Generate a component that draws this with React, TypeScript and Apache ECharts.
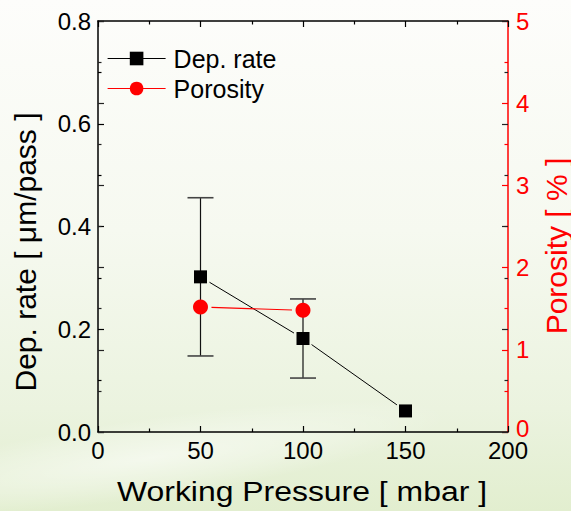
import React, { useEffect, useRef } from "react";
import * as echarts from "echarts";

// Working pressure (mbar) and measured deposition rate (µm/pass)
const pressure = [50, 100, 150];
const depRate = [0.302, 0.182, 0.041];
// Error bar limits for the deposition rate
const errPressure = [50, 100];
const depLow = [0.148, 0.105];
const depHigh = [0.456, 0.259];
// Coating porosity (%)
const porosityPressure = [50, 100];
const porosity = [1.52, 1.48];

const FONT = "'Liberation Sans', Arial, Helvetica, sans-serif";
const RED = "#ff0000";

// Segments between consecutive points, drawn with a small gap at each marker
const segments = (xs: number[], ys: number[]) =>
  xs.slice(0, -1).map((x, i) => [x, ys[i], xs[i + 1], ys[i + 1]]);

const gapLine = (gap: number, color: string, width: number) => (_p: any, api: any) => {
  const a = api.coord([api.value(0), api.value(1)]);
  const b = api.coord([api.value(2), api.value(3)]);
  const dx = b[0] - a[0];
  const dy = b[1] - a[1];
  const len = Math.hypot(dx, dy) || 1;
  const ux = dx / len;
  const uy = dy / len;
  return {
    type: "line",
    shape: { x1: a[0] + ux * gap, y1: a[1] + uy * gap, x2: b[0] - ux * gap, y2: b[1] - uy * gap },
    style: { stroke: color, lineWidth: width },
  };
};

const errorBar = (_p: any, api: any) => {
  const x = api.value(0);
  const top = api.coord([x, api.value(2)]);
  const bot = api.coord([x, api.value(1)]);
  const half = 13;
  const cap = { stroke: "#444", lineWidth: 1.6 };
  return {
    type: "group",
    children: [
      { type: "line", shape: { x1: top[0], y1: top[1], x2: bot[0], y2: bot[1] }, style: { stroke: "#111", lineWidth: 1.2 } },
      { type: "line", shape: { x1: top[0] - half, y1: top[1], x2: top[0] + half, y2: top[1] }, style: cap },
      { type: "line", shape: { x1: bot[0] - half, y1: bot[1], x2: bot[0] + half, y2: bot[1] }, style: cap },
    ],
  };
};

const ticks = (color: string) => ({
  splitLine: { show: false },
  axisTick: { show: true, inside: true, length: 6, lineStyle: { width: 1.2, color } },
  minorTick: { show: true, splitNumber: 2, length: 3.5, lineStyle: { width: 1.2, color } },
});

export default function App() {
  const ref = useRef<HTMLDivElement>(null);

  useEffect(() => {
    if (!ref.current) return;
    const chart = echarts.init(ref.current, null, { renderer: "svg" });

    chart.setOption({
      animation: false,
      backgroundColor: new echarts.graphic.LinearGradient(0, 0, 0, 1, [
        { offset: 0, color: "#fdfdfb" },
        { offset: 0.45, color: "#f6f9f0" },
        { offset: 0.8, color: "#ebf3df" },
        { offset: 1, color: "#e2eecf" },
      ]),
      textStyle: { fontFamily: FONT },
      grid: { left: 98, right: 63, top: 21, bottom: 79, containLabel: false },
      legend: {
        orient: "vertical",
        left: 102,
        top: 41,
        itemWidth: 58,
        itemHeight: 17,
        itemGap: 5,
        textStyle: { fontFamily: FONT, fontSize: 25, color: "#000", padding: [0, 0, 0, 3] },
        data: [
          { name: "Dep. rate", lineStyle: { color: "#000", width: 1, opacity: 1 } },
          { name: "Porosity", lineStyle: { color: RED, width: 1.2, opacity: 1 } },
        ],
      },
      xAxis: [
        {
          type: "value",
          position: "bottom",
          min: 0,
          max: 200,
          interval: 50,
          axisLine: { show: true, onZero: false, lineStyle: { color: "#000", width: 1.5 } },
          axisLabel: { color: "#000", fontSize: 24, lineHeight: 18, fontFamily: FONT, margin: 9 },
          ...ticks("#000"),
        },
        {
          type: "value",
          position: "top",
          min: 0,
          max: 200,
          interval: 50,
          axisLine: { show: true, onZero: false, lineStyle: { color: "#000", width: 1.5 } },
          axisLabel: { show: false },
          ...ticks("#000"),
        },
      ],
      yAxis: [
        {
          type: "value",
          position: "left",
          min: 0,
          max: 0.8,
          interval: 0.2,
          axisLine: { show: true, onZero: false, lineStyle: { color: "#000", width: 1.5 } },
          axisLabel: { color: "#000", fontSize: 24, lineHeight: 18, fontFamily: FONT, margin: 7, formatter: (v: number) => v.toFixed(1) },
          ...ticks("#000"),
        },
        {
          type: "value",
          position: "right",
          min: 0,
          max: 5,
          interval: 1,
          axisLine: { show: true, onZero: false, lineStyle: { color: RED, width: 1.5 } },
          axisLabel: {
            color: RED,
            fontSize: 24,
            lineHeight: 18,
            fontFamily: FONT,
            margin: 8,
            // the zero label sits slightly raised, clear of the "200" below it
            formatter: (v: number) => (v === 0 ? "{z|0}" : String(v)),
            rich: { z: { color: RED, fontSize: 24, fontFamily: FONT, lineHeight: 18, padding: [0, 0, 8, 0] } },
          },
          ...ticks(RED),
        },
        {
          // left-scale ticks repeated on the right edge
          type: "value",
          position: "right",
          min: 0,
          max: 0.8,
          interval: 0.2,
          axisLine: { show: false, onZero: false },
          axisLabel: { show: false },
          ...ticks("#222"),
        },
        {
          // right-scale ticks repeated on the left edge
          type: "value",
          position: "left",
          min: 0,
          max: 5,
          interval: 1,
          axisLine: { show: false, onZero: false },
          axisLabel: { show: false },
          ...ticks("#222"),
        },
      ],
      graphic: [
        {
          // soft light streak across the lower background
          type: "ellipse",
          z: -10,
          silent: true,
          x: 150,
          y: 458,
          rotation: 0.14,
          shape: { cx: 0, cy: 0, rx: 300, ry: 40 },
          style: {
            fill: new echarts.graphic.RadialGradient(0.5, 0.5, 0.5, [
              { offset: 0, color: "rgba(255,255,255,0.55)" },
              { offset: 0.6, color: "rgba(255,255,255,0.25)" },
              { offset: 1, color: "rgba(255,255,255,0)" },
            ]),
          },
        },
        {
          type: "text",
          x: 25,
          y: 252,
          rotation: Math.PI / 2,
          style: { text: "Dep. rate [ μm/pass ]", fontSize: 30, fontFamily: FONT, fill: "#000", textAlign: "center", textVerticalAlign: "middle" },
        },
        {
          type: "text",
          x: 556,
          y: 246,
          rotation: Math.PI / 2,
          style: { text: "Porosity [ % ]", fontSize: 30, fontFamily: FONT, fill: RED, textAlign: "center", textVerticalAlign: "middle" },
        },
        {
          type: "text",
          x: 302,
          y: 491,
          scaleX: 1.14,
          style: { text: "Working Pressure [ mbar ]", fontSize: 28, fontFamily: FONT, fill: "#000", textAlign: "center", textVerticalAlign: "middle" },
        },
      ],
      series: [
        {
          type: "custom",
          name: "depErr",
          xAxisIndex: 0,
          yAxisIndex: 0,
          z: 2,
          renderItem: errorBar,
          encode: { x: 0, y: [1, 2] },
          data: errPressure.map((p, i) => [p, depLow[i], depHigh[i]]),
        },
        {
          type: "custom",
          name: "depLine",
          xAxisIndex: 0,
          yAxisIndex: 0,
          z: 2,
          renderItem: gapLine(10.5, "#000", 1),
          encode: { x: [0, 2], y: [1, 3] },
          data: segments(pressure, depRate),
        },
        {
          type: "custom",
          name: "porLine",
          xAxisIndex: 0,
          yAxisIndex: 1,
          z: 2,
          renderItem: gapLine(11, RED, 1.2),
          encode: { x: [0, 2], y: [1, 3] },
          data: segments(porosityPressure, porosity),
        },
        {
          type: "line",
          name: "Dep. rate",
          xAxisIndex: 0,
          yAxisIndex: 0,
          z: 5,
          symbol: "rect",
          symbolSize: 13,
          itemStyle: { color: "#000" },
          lineStyle: { color: "#000", width: 1, opacity: 0 },
          data: pressure.map((p, i) => [p, depRate[i]]),
        },
        {
          type: "line",
          name: "Porosity",
          xAxisIndex: 0,
          yAxisIndex: 1,
          z: 5,
          symbol: "circle",
          symbolSize: 15,
          itemStyle: { color: RED },
          lineStyle: { color: RED, width: 1.2, opacity: 0 },
          data: porosityPressure.map((p, i) => [p, porosity[i]]),
        },
      ],
    });

    return () => chart.dispose();
  }, []);

  return (
    <div
      ref={ref}
      style={{ position: "absolute", left: 0, top: 0, width: 571, height: 511 }}
    />
  );
}
